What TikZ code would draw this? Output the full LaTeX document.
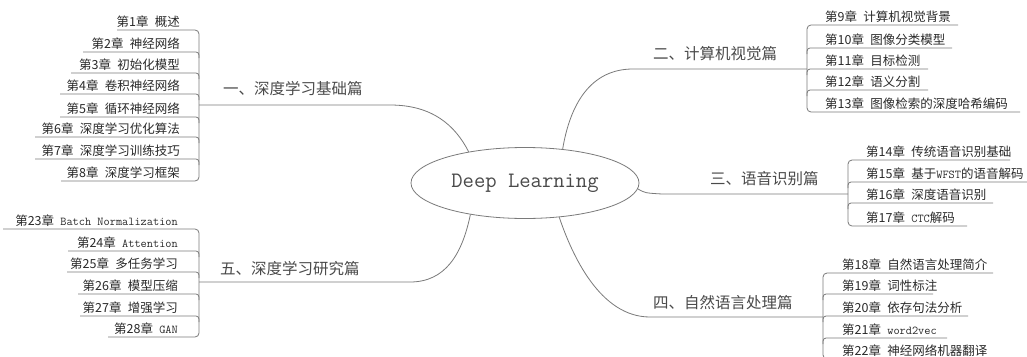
\documentclass[tikz,border=0pt]{standalone}
\usepackage{fontspec}
\setmainfont{Noto Sans CJK SC}
\usetikzlibrary{shapes.geometric}
\definecolor{linec}{HTML}{7A7A7A}
\definecolor{txtc}{HTML}{2A2A2A}
\definecolor{brc}{HTML}{4A4A4A}
\newcommand{\chp}[2]{第#1章\hspace{0.5em}#2}
\newcommand{\lat}[1]{{\fontsize{12}{13}\ttfamily #1}}
\begin{document}
\begin{tikzpicture}[x=1pt,y=-1pt,
  conn/.style={draw=linec,line width=0.8pt},
  item/.style={font=\fontsize{12.5}{14}\selectfont, text=txtc, inner sep=0pt},
  branch/.style={font=\fontsize{15.5}{18}\selectfont, text=brc, inner sep=0pt, anchor=base west}]
\useasboundingbox (0,0) rectangle (1027,356);
\clip (0,0) rectangle (1027,356);
\fill[white] (0,0) rectangle (1027,356);

% centre
\node[draw=linec, line width=0.8pt, ellipse, minimum width=228pt, minimum height=71pt,
      inner sep=0pt, font=\fontsize{22}{24}\ttfamily, text=brc] (dl) at (525,183) {Deep Learning};

% branch labels
\node[branch] (b1) at (223,94) {一、深度学习基础篇};
\node[branch] (b2) at (653,59) {二、计算机视觉篇};
\node[branch] (b3) at (710,184) {三、语音识别篇};
\node[branch] (b4) at (653,308) {四、自然语言处理篇};
\node[branch] (b5) at (220,274) {五、深度学习研究篇};

% list 1 (left, top)
\foreach \i/\t/\y/\xl in {1/概述/30/117, 2/神经网络/52/83, 3/初始化模型/73/71, 4/卷积神经网络/94/60,
   5/循环神经网络/117/60, 6/深度学习优化算法/137/35, 7/深度学习训练技巧/159/35, 8/深度学习框架/181/61}{
  \node[item,anchor=base east] (a\i) at (180,\y-4) {\chp{\i}{\t}};
  \coordinate (ua\i) at (199,\y);
  \coordinate (la\i) at (\xl,\y);
}
\draw[conn, rounded corners=4pt] (la1) -- (ua1) -- (ua8) -- (la8);
\foreach \i in {2,...,7}{\draw[conn, rounded corners=3pt] (la\i) -- (ua\i) -- ++(0,6);}
\coordinate (j1) at (199,105);
\draw[conn] (dl.151) .. controls (455,125) and (432,105) .. (390,105) -- (j1);

% list 2 (right, top)
\foreach \i/\t/\y/\xr in {9/计算机视觉背景/25/958, 10/图像分类模型/48/952, 11/目标检测/69/928,
   12/语义分割/90/928, 13/图像检索的深度哈希编码/112/1020}{
  \node[item,anchor=base west] (c\i) at (825,\y-4) {\chp{\i}{\t}};
  \coordinate (uc\i) at (807,\y);
  \coordinate (rc\i) at (\xr,\y);
}
\draw[conn, rounded corners=4pt] (rc9) -- (uc9) -- (uc13) -- (rc13);
\foreach \i in {10,11,12}{\draw[conn, rounded corners=3pt] (rc\i) -- (uc\i) -- ++(0,6);}
\coordinate (j2) at (807,69);
\draw[conn] (dl.42) .. controls (570,105) and (590,69) .. (633,69) -- (j2);

% list 3 (right, middle)
\foreach \i/\t/\y/\xr in {14/传统语音识别基础/160/1010, 15/基于\lat{WFST}的语音解码/182/1027,
   16/深度语音识别/203/993, 17/\lat{CTC}解码/226/967}{
  \node[item,anchor=base west] (d\i) at (866,\y-4) {\chp{\i}{\t}};
  \coordinate (ud\i) at (848,\y);
  \coordinate (rd\i) at (\xr,\y);
}
\draw[conn, rounded corners=4pt] (rd14) -- (ud14) -- (ud17) -- (rd17);
\foreach \i in {15,16}{\draw[conn, rounded corners=3pt] (rd\i) -- (ud\i) -- ++(0,6);}
\coordinate (j3) at (848,194);
\draw[conn] (dl.-3) .. controls (645,193) .. (662,194) -- (j3);

% list 4 (right, bottom)
\foreach \i/\t/\y/\xr in {18/自然语言处理简介/273/993, 19/词性标注/294/933, 20/依存句法分析/316/968,
   21/\lat{word2vec}/338/947, 22/神经网络机器翻译/359/990}{
  \node[item,anchor=base west] (e\i) at (842,\y-4) {\chp{\i}{\t}};
  \coordinate (ue\i) at (823,\y);
  \coordinate (re\i) at (\xr,\y);
}
\draw[conn, rounded corners=4pt] (re18) -- (ue18) -- (ue22) -- (re22);
\foreach \i in {19,20,21}{\draw[conn, rounded corners=3pt] (re\i) -- (ue\i) -- ++(0,6);}
\coordinate (j4) at (823,317);
\draw[conn] (dl.-45) .. controls (572,255) and (600,317) .. (650,317) -- (j4);

% list 5 (left, bottom)
\foreach \i/\t/\y/\xl in {23/\lat{Batch Normalization}/229/3, 24/\lat{Attention}/251/68, 25/多任务学习/272/67,
   26/模型压缩/294/78, 27/增强学习/316/80, 28/\lat{GAN}/337/108}{
  \node[item,anchor=base east] (f\i) at (178,\y-4) {\chp{\i}{\t}};
  \coordinate (uf\i) at (199,\y);
  \coordinate (lf\i) at (\xl,\y);
}
\draw[conn, rounded corners=4pt] (lf23) -- (uf23) -- (uf28) -- (lf28);
\foreach \i in {24,...,27}{\draw[conn, rounded corners=3pt] (lf\i) -- (uf\i) -- ++(0,6);}
\coordinate (j5) at (199,282);
\draw[conn] (dl.210) .. controls (462,255) and (445,282) .. (410,282) -- (j5);
\end{tikzpicture}
\end{document}
